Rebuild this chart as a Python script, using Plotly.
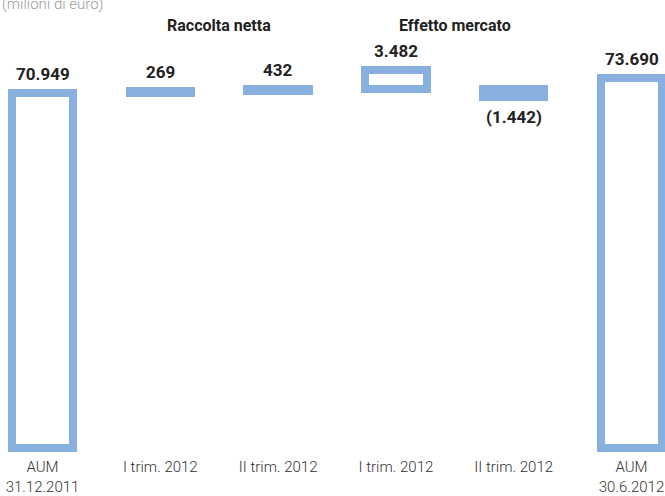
import plotly.graph_objects as go

# --- data (milioni di euro) ---
tick_labels = ["AUM<br>31.12.2011", "I trim. 2012", "II trim. 2012",
               "I trim. 2012", "II trim. 2012", "AUM<br>30.6.2012"]
aum_start = 70949
raccolta_netta = [269, 432]        # I trim., II trim. 2012
effetto_mercato = [3482, -1442]    # I trim., II trim. 2012
aum_end = 73690

# --- layout constants ---
W, H = 665, 496
M_T, M_B = 40, 40
Y_LO, Y_HI = 4891, 80527          # value axis window
BASE = 6350                        # floor the total bars stand on
LINE_BLUE = "#88B0DE"
FONT = "Roboto, Lato, sans-serif"


def fmt(v):
    s = f"{abs(v):,}".replace(",", ".")
    return f"({s})" if v < 0 else s


def px_to_paper(py):
    plot_h = H - M_T - M_B
    return 1 - (py - M_T) / plot_h


# bar geometry: net inflows stack on the opening AUM; both market-effect
# quarters are drawn from the level reached after net inflows
xs = list(range(len(tick_labels)))
bases, heights = [BASE], [aum_start - BASE]
running = aum_start
for f in raccolta_netta:
    bases.append(running)
    heights.append(f)
    running += f
for f in effetto_mercato:
    bases.append(running)
    heights.append(f)
bases.append(BASE)
heights.append(aum_end - BASE)
values = [aum_start] + raccolta_netta + effetto_mercato + [aum_end]

fig = go.Figure(go.Bar(
    x=xs, y=heights, base=bases, width=0.52,
    marker=dict(color="white", line=dict(color=LINE_BLUE, width=8)),
    hoverinfo="skip",
))

annotations = []
for x, b, h, v in zip(xs, bases, heights, values):
    a = dict(x=x, y=b + h, text=f"<b>{fmt(v)}</b>", showarrow=False,
             xref="x", yref="y",
             font=dict(family=FONT, size=17, color="#222222"))
    if h >= 0:
        a.update(yanchor="bottom", yshift=7)
    else:
        a.update(yanchor="top", yshift=-8)
    annotations.append(a)

# group headers
for cx, title in [(1.5, "Raccolta netta"), (3.5, "Effetto mercato")]:
    annotations.append(dict(x=cx, y=px_to_paper(25), xref="x", yref="paper",
                            text=f"<b>{title}</b>", showarrow=False,
                            yanchor="middle",
                            font=dict(family=FONT, size=16, color="#222222")))
# unit note
annotations.append(dict(x=0, y=px_to_paper(4), xref="paper", yref="paper",
                        text="(milioni di euro)", showarrow=False,
                        xanchor="left", yanchor="middle",
                        font=dict(family=FONT, size=15, color="#9a9a9a",
                                  weight=300)))

fig.update_layout(
    width=W, height=H,
    margin=dict(l=0, r=0, t=M_T, b=M_B),
    paper_bgcolor="white", plot_bgcolor="white",
    showlegend=False,
    bargap=0,
    annotations=annotations,
    xaxis=dict(range=[-0.3608, 5.2844], tickmode="array", tickvals=xs,
               ticktext=tick_labels, showgrid=False, zeroline=False,
               showline=False, ticks="",
               tickfont=dict(family=FONT, size=15, color="#333333",
                             weight=300)),
    yaxis=dict(range=[Y_LO, Y_HI], visible=False, showgrid=False,
               zeroline=False),
)

fig.write_html("out.html")
